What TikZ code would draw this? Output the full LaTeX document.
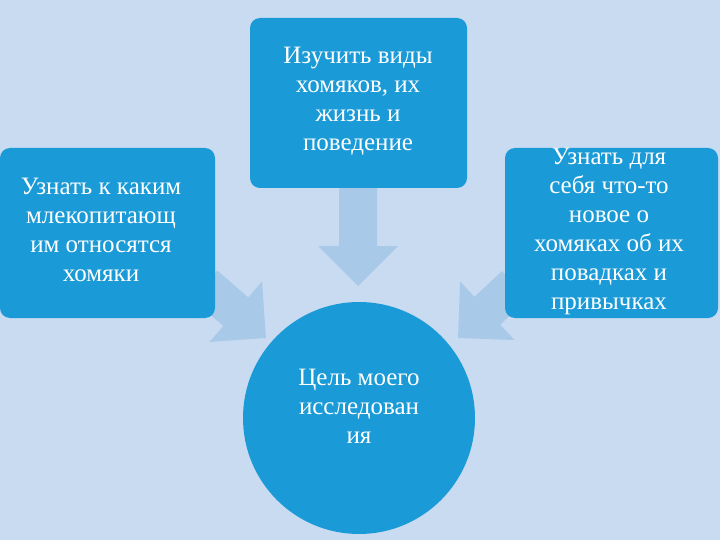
\documentclass[tikz,border=0pt]{standalone}
\usepackage{fontspec}
\setmainfont{Liberation Serif}
\usetikzlibrary{calc}
\definecolor{bg}{HTML}{C9DBF1}
\definecolor{boxc}{HTML}{1A9AD6}
\definecolor{arr}{HTML}{A9C9E9}
\newcommand{\blockarrow}[2]{%
  \fill[arr] let \p1=($(#2)-(#1)$), \n1={veclen(\x1,\y1)}, \n2={atan2(\y1,\x1)} in
   [shift={(#1)},rotate=\n2] (0,-19) -- (\n1-40,-19) -- (\n1-40,-40) -- (\n1,0) -- (\n1-40,40) -- (\n1-40,19) -- (0,19) -- cycle;}
\begin{document}
\begin{tikzpicture}[x=1pt,y=-1pt,
  box/.style={fill=boxc,rounded corners=10pt},
  lbl/.style={text=white,align=center,font=\fontsize{25}{29}\selectfont,anchor=north}]
\fill[bg] (0,0) rectangle (720,540);
\useasboundingbox (0,0) rectangle (720,540);
\coordinate (s1) at (358,188); \coordinate (e1) at (358,286);
\coordinate (s2) at (205,285); \coordinate (e2) at (266,338);
\coordinate (s3) at (515,285); \coordinate (e3) at (458,338);
\blockarrow{s1}{e1}
\blockarrow{s2}{e2}
\blockarrow{s3}{e3}
\fill[box] (250,18) rectangle (467,188);
\node[lbl] (top) at (358,44) {Изучить виды\\хомяков, их\\жизнь и\\поведение};
\fill[box] (0,148) rectangle (215,318);
\node[lbl] (left) at (101,175) {Узнать к каким\\млекопитающ\\им относятся\\хомяки};
\fill[box] (505,148) rectangle (718,318);
\node[lbl] (right) at (609,145) {Узнать для\\себя что-то\\новое о\\хомяках об их\\повадках и\\привычках};
\fill[boxc] (359,418) circle (116);
\node[lbl] (goal) at (359,366) {Цель моего\\исследован\\ия};
\end{tikzpicture}
\end{document}
